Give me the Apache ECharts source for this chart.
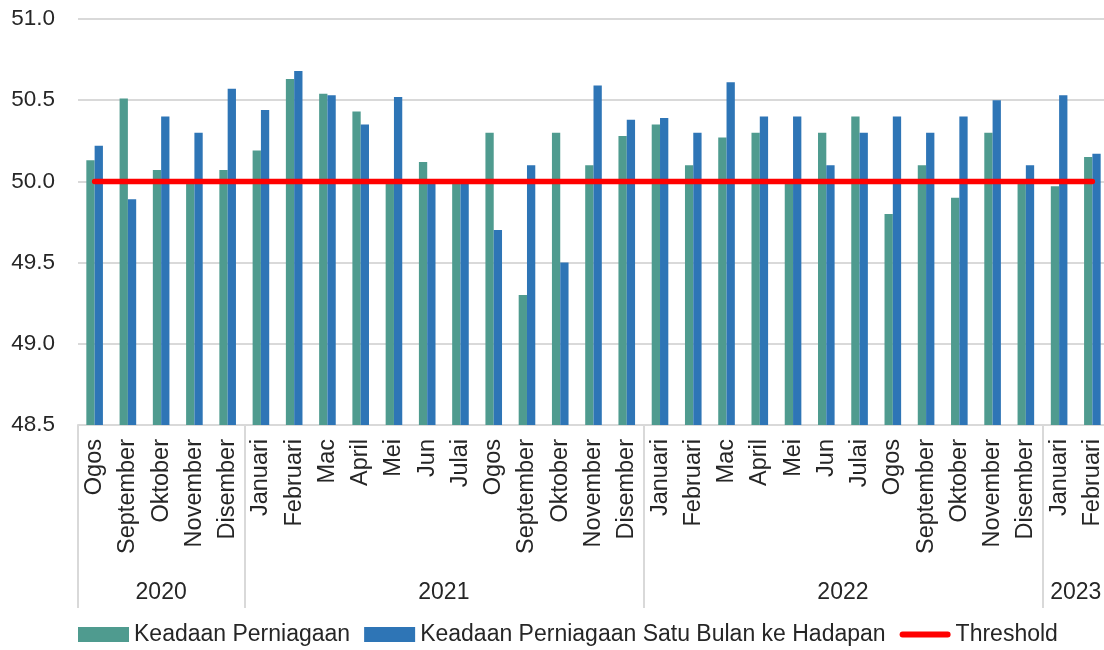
<!DOCTYPE html>
<html>
<head>
<meta charset="utf-8">
<script src="https://cdn.jsdelivr.net/npm/echarts@6/dist/echarts.min.js"></script>
<style>
html,body{margin:0;padding:0;background:#fff;overflow:hidden;}
#chart{width:1112px;height:650px;}
</style>
</head>
<body>
<div id="chart"></div>
<script>
const months = ['Ogos','September','Oktober','November','Disember',
  'Januari','Februari','Mac','April','Mei','Jun','Julai','Ogos','September','Oktober','November','Disember',
  'Januari','Februari','Mac','April','Mei','Jun','Julai','Ogos','September','Oktober','November','Disember',
  'Januari','Februari'];
const years = ['2020','2021','2022','2023'];
const yearCounts = [5,12,12,2];
const keadaan = [50.13,50.51,50.07,50.0,50.07,
  50.19,50.63,50.54,50.43,50.0,50.12,50.0,50.30,49.30,50.30,50.10,50.28,
  50.35,50.10,50.27,50.30,50.0,50.30,50.40,49.80,50.10,49.90,50.30,50.0,
  49.97,50.15];
const keadaanSatuBulan = [50.22,49.89,50.40,50.30,50.57,
  50.44,50.68,50.53,50.35,50.52,50.0,50.0,49.70,50.10,49.50,50.59,50.38,
  50.39,50.30,50.61,50.40,50.40,50.10,50.30,50.40,50.30,50.40,50.50,50.10,
  50.53,50.17];
const threshold = [50.0,50.0,50.0,50.0,50.0,
  50.0,50.0,50.0,50.0,50.0,50.0,50.0,50.0,50.0,50.0,50.0,50.0,
  50.0,50.0,50.0,50.0,50.0,50.0,50.0,50.0,50.0,50.0,50.0,50.0,
  50.0,50.0];
const seriesNames = ['Keadaan Perniagaan','Keadaan Perniagaan Satu Bulan ke Hadapan','Threshold'];

// Year axis built on half-category steps (boundaryGap false), so group centres and borders are ticks.
const nHalf = months.length * 2 + 1;
const yearSlots = new Array(nHalf).fill('');
const sepSet = new Set([0]);
let start = 0;
years.forEach((y, i) => {
  const end = start + yearCounts[i];
  yearSlots[start + end] = y;      // centre in half units
  sepSet.add(end * 2);
  start = end;
});

const FONT = '"Liberation Sans", Arial, sans-serif';
const TXT = '#262626';
const chart = echarts.init(document.getElementById('chart'));
chart.setOption({
  animation: false,
  textStyle: {fontFamily: FONT},
  grid: {left: 78, right: 0, top: 19, bottom: 225, containLabel: false},
  legend: {
    left: 78, top: 623, padding: 0,
    itemWidth: 51, itemHeight: 15, itemGap: 14,
    textStyle: {fontSize: 23, color: TXT, fontFamily: FONT},
    data: [
      {name: seriesNames[0], icon: 'rect'},
      {name: seriesNames[1], icon: 'rect'},
      {name: seriesNames[2], icon: 'path://M3,0 L49,0 A3,3 0 0 1 49,6 L3,6 A3,3 0 0 1 3,0 Z'}
    ]
  },
  xAxis: [
    {
      type: 'category', data: months, position: 'bottom',
      axisLine: {lineStyle: {color: '#d9d9d9', width: 2}},
      axisTick: {show: false},
      axisLabel: {interval: 0, rotate: 90, margin: 14, fontSize: 23.5, color: TXT, fontFamily: FONT}
    },
    {
      type: 'category', data: yearSlots, position: 'bottom', boundaryGap: false,
      axisLine: {show: false},
      axisTick: {show: true, length: 183, interval: (i) => sepSet.has(i), lineStyle: {color: '#d9d9d9', width: 2}},
      axisLabel: {interval: 0, margin: 156, fontSize: 23, color: TXT, fontFamily: FONT}
    }
  ],
  yAxis: {
    type: 'value', min: 48.5, max: 51.0, interval: 0.5,
    axisLine: {show: false}, axisTick: {show: false},
    splitLine: {lineStyle: {color: '#d9d9d9', width: 2}},
    axisLabel: {margin: 23, fontSize: 22.5, color: TXT, fontFamily: FONT, formatter: v => v.toFixed(1)}
  },
  series: [
    {name: seriesNames[0], type: 'bar', data: keadaan, barWidth: 8.3, barGap: '0%',
     itemStyle: {color: '#4F9B8F'}},
    {name: seriesNames[1], type: 'bar', data: keadaanSatuBulan, barWidth: 8.3, barGap: '0%',
     itemStyle: {color: '#2E75B6'}},
    {name: seriesNames[2], type: 'line', data: threshold, symbol: 'none', z: 5,
     lineStyle: {color: '#FF0000', width: 5.5, cap: 'round'}, itemStyle: {color: '#FF0000'}}
  ]
});
</script>
</body>
</html>
